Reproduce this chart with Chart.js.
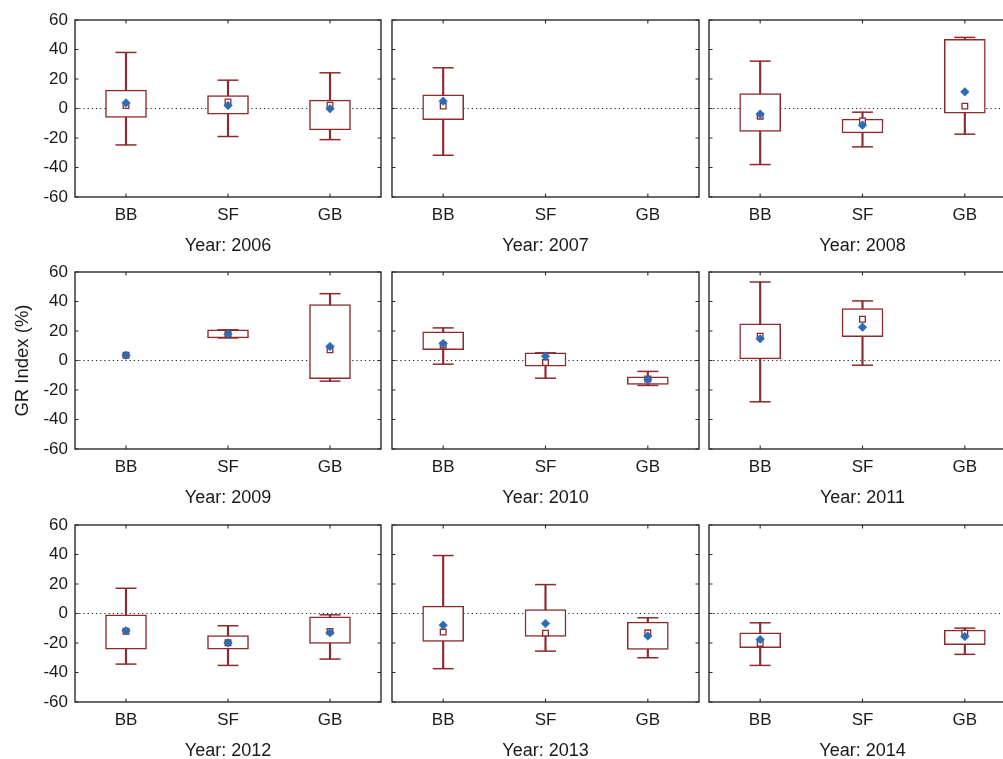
<!DOCTYPE html>
<html>
<head>
<meta charset="utf-8">
<title>GR Index by year</title>
<script src="https://cdn.jsdelivr.net/npm/chart.js@4/dist/chart.umd.min.js"></script>
<style>
  html, body { margin: 0; padding: 0; background: #ffffff; }
  body { width: 1003px; height: 759px; overflow: hidden; position: relative; }
  canvas { position: absolute; }
</style>
</head>
<body>
<script>
// ---- data: one row per year, columns follow `categories` ----
const categories = ['BB', 'SF', 'GB'];
const years = [2006, 2007, 2008, 2009, 2010, 2011, 2012, 2013, 2014];
const yTicks = [-60, -40, -20, 0, 20, 40, 60];

const whiskerMax = [
  [38.0, 19.2, 24.2],
  [27.6, null, null],
  [32.1, -2.5, 48.2],
  [null, 20.8, 45.3],
  [22.1, 5.2, -7.4],
  [53.2, 40.4, null],
  [17.1, -8.3, -0.9],
  [39.3, 19.6, -2.9],
  [-6.3, null, -9.9]
];
const boxUpper = [
  [12.5, 8.8, 5.7],
  [9.3, null, null],
  [10.2, -7.2, 46.9],
  [null, 20.8, 37.9],
  [19.4, 5.2, -11.1],
  [24.8, 35.2, null],
  [-0.9, -14.9, -2.3],
  [5.0, 2.7, -5.9],
  [-13.1, null, -11.3]
];
const boxLower = [
  [-6.1, -3.8, -14.5],
  [-7.5, null, null],
  [-15.6, -16.5, -3.2],
  [null, 15.3, -12.4],
  [7.4, -3.8, -16.2],
  [1.1, 16.2, null],
  [-24.1, -24.1, -20.3],
  [-18.9, -15.6, -24.4],
  [-23.2, null, -21.2]
];
const whiskerMin = [
  [-24.7, -19.0, -21.1],
  [-31.7, null, null],
  [-38.0, -26.0, -17.4],
  [null, 15.3, -14.0],
  [-2.5, -12.0, -16.9],
  [-28.0, -3.2, null],
  [-34.3, -35.2, -30.9],
  [-37.4, -25.5, -30.0],
  [-35.2, null, -27.7]
];
const medians = [
  [2.0, 4.5, 2.3],
  [1.6, null, null],
  [-5.2, -8.4, 1.6],
  [3.6, 18.0, 7.2],
  [10.4, -1.4, -12.6],
  [16.5, 28.0, null],
  [-12.0, -19.9, -12.2],
  [-12.6, -13.3, -13.1],
  [-20.3, null, -13.3]
];
const means = [
  [3.8, 2.0, -0.2],
  [5.0, null, null],
  [-3.8, -11.3, 11.3],
  [3.6, 18.0, 9.5],
  [11.5, 2.9, -12.9],
  [14.7, 22.6, null],
  [-11.7, -19.9, -13.1],
  [-7.9, -6.8, -15.3],
  [-17.6, null, -15.6]
];

// ---- styling ----
const BOX_RED = '#8c2b2e';
const MEAN_BLUE = '#2c6cb6';
const FRAME = '#2b2b2b';
const FONT = "'Liberation Sans', Arial, Helvetica, sans-serif";

Chart.defaults.font.family = FONT;
Chart.defaults.color = '#1a1a1a';

// panel grid geometry (plot-area origins)
const colPlotLeft = [75, 392, 709];
const rowPlotTop = [20, 272, 524.5];
const PLOT_H = 177;
const PAD_TOP = 12;
const X_AXIS_H = 60;

// frame around the plot area plus short inward tick marks on all four sides
const framePlugin = {
  id: 'frameTicks',
  afterDraw(chart) {
    const { ctx, chartArea: a, scales } = chart;
    const len = 3.5;
    ctx.save();
    ctx.strokeStyle = FRAME;
    ctx.lineWidth = 1.4;
    ctx.strokeRect(a.left, a.top, a.right - a.left, a.bottom - a.top);
    ctx.lineWidth = 1.1;
    ctx.beginPath();
    yTicks.forEach(v => {
      const y = scales.y.getPixelForValue(v);
      ctx.moveTo(a.left, y); ctx.lineTo(a.left + len, y);
      ctx.moveTo(a.right, y); ctx.lineTo(a.right - len, y);
    });
    categories.forEach((c, i) => {
      const x = scales.x.getPixelForValue(i);
      ctx.moveTo(x, a.top); ctx.lineTo(x, a.top + len);
      ctx.moveTo(x, a.bottom); ctx.lineTo(x, a.bottom - len);
    });
    ctx.stroke();
    ctx.restore();
  }
};

function range(lo, hi) {
  return lo.map((v, i) => (v === null || hi[i] === null) ? null : [v, hi[i]]);
}

function makePanel(k) {
  const row = Math.floor(k / 3), col = k % 3;
  const yAxisW = col === 0 ? 75 : 0;
  const padL = col === 0 ? 0 : 4;
  const plotW = col === 0 ? 306 : 307;
  const canvas = document.createElement('canvas');
  const w = padL + yAxisW + plotW + 4;
  const h = PAD_TOP + PLOT_H + X_AXIS_H;
  canvas.width = w;
  canvas.height = h;
  canvas.style.width = w + 'px';
  canvas.style.height = h + 'px';
  canvas.style.left = (colPlotLeft[col] - yAxisW - padL) + 'px';
  canvas.style.top = (rowPlotTop[row] - PAD_TOP) + 'px';
  document.body.appendChild(canvas);

  const showYTitle = (row === 1 && col === 0);

  new Chart(canvas, {
    type: 'bar',
    data: {
      labels: categories,
      datasets: [
        {
          label: 'mean',
          type: 'line',
          data: means[k],
          showLine: false,
          pointStyle: 'rectRot',
          pointRadius: 4.3,
          pointBackgroundColor: MEAN_BLUE,
          pointBorderColor: MEAN_BLUE,
          pointBorderWidth: 0.6,
          order: 1
        },
        {
          label: 'median',
          type: 'line',
          data: medians[k],
          showLine: false,
          pointStyle: 'rect',
          pointRadius: 4,
          pointBackgroundColor: '#ffffff',
          pointBorderColor: BOX_RED,
          pointBorderWidth: 1.3,
          order: 2
        },
        {
          label: 'max',
          type: 'line',
          data: whiskerMax[k],
          showLine: false,
          pointStyle: 'line',
          pointRadius: 10.5,
          pointBorderColor: BOX_RED,
          pointBorderWidth: 1.5,
          order: 3
        },
        {
          label: 'min',
          type: 'line',
          data: whiskerMin[k],
          showLine: false,
          pointStyle: 'line',
          pointRadius: 10.5,
          pointBorderColor: BOX_RED,
          pointBorderWidth: 1.5,
          order: 3
        },
        {
          label: 'box',
          data: range(boxLower[k], boxUpper[k]),
          backgroundColor: '#ffffff',
          borderColor: BOX_RED,
          borderWidth: 1.5,
          borderSkipped: false,
          barThickness: 41,
          grouped: false,
          order: 4
        },
        {
          label: 'whisker',
          data: range(whiskerMin[k], whiskerMax[k]),
          backgroundColor: BOX_RED,
          borderWidth: 0,
          barThickness: 1.5,
          grouped: false,
          order: 5
        }
      ]
    },
    options: {
      responsive: false,
      animation: false,
      devicePixelRatio: 1,
      layout: { autoPadding: false, padding: { top: PAD_TOP, right: 4, bottom: 0, left: padL } },
      plugins: { legend: { display: false }, tooltip: { enabled: false }, title: { display: false } },
      scales: {
        x: {
          offset: true,
          grid: { display: false, drawTicks: false },
          border: { display: false },
          ticks: { padding: 8, font: { size: 17 }, color: '#1a1a1a', maxRotation: 0 },
          title: {
            display: true,
            text: 'Year: ' + years[k],
            font: { size: 18 },
            color: '#1a1a1a',
            padding: { top: 0, bottom: 0 }
          },
          afterFit(scale) {
            scale.height = X_AXIS_H;
            scale.paddingLeft = 0;
            scale.paddingRight = 0;
          }
        },
        y: {
          min: -60,
          max: 60,
          afterBuildTicks(scale) { scale.ticks = yTicks.map(v => ({ value: v })); },
          grid: {
            drawTicks: false,
            lineWidth: 1.1,
            color: c => (c.tick && c.tick.value === 0) ? '#222222' : 'rgba(0,0,0,0)'
          },
          border: { display: false, dash: [1.2, 3] },
          ticks: { display: col === 0, padding: 7, font: { size: 17 }, color: '#1a1a1a' },
          title: {
            display: showYTitle,
            text: 'GR Index (%)',
            font: { size: 18.5 },
            color: '#1a1a1a',
            padding: { top: 12, bottom: 0 }
          },
          afterFit(scale) {
            scale.width = yAxisW;
            scale.paddingTop = 0;
            scale.paddingBottom = 0;
          }
        }
      }
    },
    plugins: [framePlugin]
  });
}

years.forEach((y, k) => makePanel(k));
</script>
</body>
</html>
